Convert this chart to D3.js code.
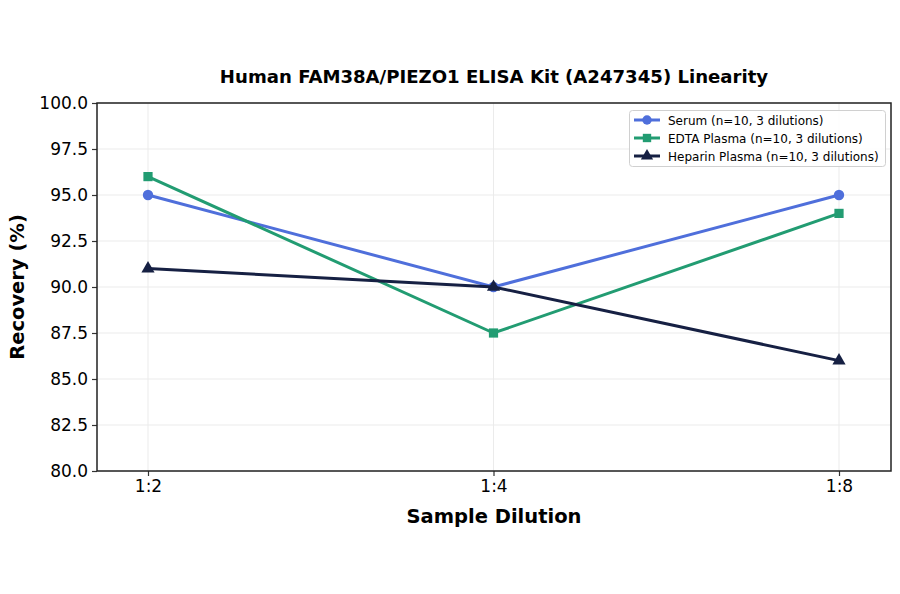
<!DOCTYPE html>
<html><head><meta charset="utf-8">
<script src="https://cdn.jsdelivr.net/npm/d3@7"></script>
<style>body{margin:0;background:#fff;} text{font-family:"DejaVu Sans",sans-serif;}</style>
</head><body><svg id="c" width="900" height="594"></svg>
<script>
const categories = ["1:2", "1:4", "1:8"];
const serum = [95.0, 90.0, 95.0];
const edta = [96.0, 87.5, 94.0];
const heparin = [91.0, 90.0, 86.0];
const yTicks = [80.0, 82.5, 85.0, 87.5, 90.0, 92.5, 95.0, 97.5, 100.0];
const seriesNames = ["Serum (n=10, 3 dilutions)", "EDTA Plasma (n=10, 3 dilutions)", "Heparin Plasma (n=10, 3 dilutions)"];

const series = [
  {name: seriesNames[0], values: serum, color: "#4f6fdb", shape: d3.symbolCircle},
  {name: seriesNames[1], values: edta, color: "#229c72", shape: d3.symbolSquare},
  {name: seriesNames[2], values: heparin, color: "#162043", shape: d3.symbolTriangle}
];

const svg = d3.select("#c");
const L = 97, R = 891, T = 103, B = 471;
const x = d3.scaleLinear().domain([-0.1476, 2.1505]).range([L, R]);
const y = d3.scaleLinear().domain([80, 100]).range([B, T]);

// grid
const g = svg.append("g");
g.selectAll(".gy").data(yTicks).enter().append("line")
  .attr("x1", L).attr("x2", R).attr("y1", d => y(d)).attr("y2", d => y(d))
  .attr("stroke", "#ebebeb").attr("stroke-width", 1);
g.selectAll(".gx").data(categories).enter().append("line")
  .attr("y1", T).attr("y2", B).attr("x1", (d,i) => x(i)).attr("x2", (d,i) => x(i))
  .attr("stroke", "#ebebeb").attr("stroke-width", 1);

// axes
const xAxis = d3.axisBottom(x).tickValues([0,1,2]).tickFormat(i => categories[i]).tickSize(5).tickPadding(4);
const yAxis = d3.axisLeft(y).tickValues(yTicks).tickFormat(d3.format(".1f")).tickSize(5).tickPadding(4);
const gx = svg.append("g").attr("transform", `translate(0,${B})`).call(xAxis);
const gy = svg.append("g").attr("transform", `translate(${L},0)`).call(yAxis);
[gx, gy].forEach(a => {
  a.select(".domain").remove();
  a.selectAll("text").attr("font-size", 17).attr("fill", "#000").style("font-family", "DejaVu Sans");
  a.selectAll("line").attr("stroke", "#333").attr("stroke-width", 1.2);
});
svg.append("rect").attr("x", L).attr("y", T).attr("width", R-L).attr("height", B-T)
  .attr("fill", "none").attr("stroke", "#222").attr("stroke-width", 1.5);

// lines
const line = d3.line().x((d,i) => x(i)).y(d => y(d));
series.forEach(s => {
  svg.append("path").datum(s.values).attr("d", line).attr("fill", "none")
    .attr("stroke", s.color).attr("stroke-width", 3);
  svg.selectAll(null).data(s.values).enter().append("path")
    .attr("d", d3.symbol().type(s.shape).size(s.shape === d3.symbolTriangle ? 75 : 85))
    .attr("transform", (d,i) => `translate(${x(i)},${y(d)})`)
    .attr("fill", s.color);
});

// title & labels
svg.append("text").attr("x", 494).attr("y", 83).attr("text-anchor", "middle")
  .attr("font-size", 18.1).attr("font-weight", "bold").text("Human FAM38A/PIEZO1 ELISA Kit (A247345) Linearity");
svg.append("text").attr("x", 494).attr("y", 523).attr("text-anchor", "middle")
  .attr("font-size", 19.5).attr("font-weight", "bold").text("Sample Dilution");
svg.append("text").attr("transform", "translate(24,287) rotate(-90)").attr("text-anchor", "middle")
  .attr("font-size", 19.5).attr("font-weight", "bold").text("Recovery (%)");

// legend
const lg = svg.append("g");
lg.append("rect").attr("x", 629.5).attr("y", 110.5).attr("width", 256).attr("height", 56).attr("rx", 3)
  .attr("fill", "#fff").attr("fill-opacity", 0.85).attr("stroke", "#d0d0d0");
series.forEach((s, i) => {
  const yy = 120 + i * 18;
  lg.append("line").attr("x1", 634).attr("x2", 660).attr("y1", yy).attr("y2", yy)
    .attr("stroke", s.color).attr("stroke-width", 3);
  lg.append("path").attr("d", d3.symbol().type(s.shape).size(s.shape === d3.symbolTriangle ? 65 : 70))
    .attr("transform", `translate(647,${yy})`).attr("fill", s.color);
  lg.append("text").attr("x", 668).attr("y", yy + 4.5).attr("font-size", 12).attr("fill", "#000").text(s.name);
});
</script></body></html>
